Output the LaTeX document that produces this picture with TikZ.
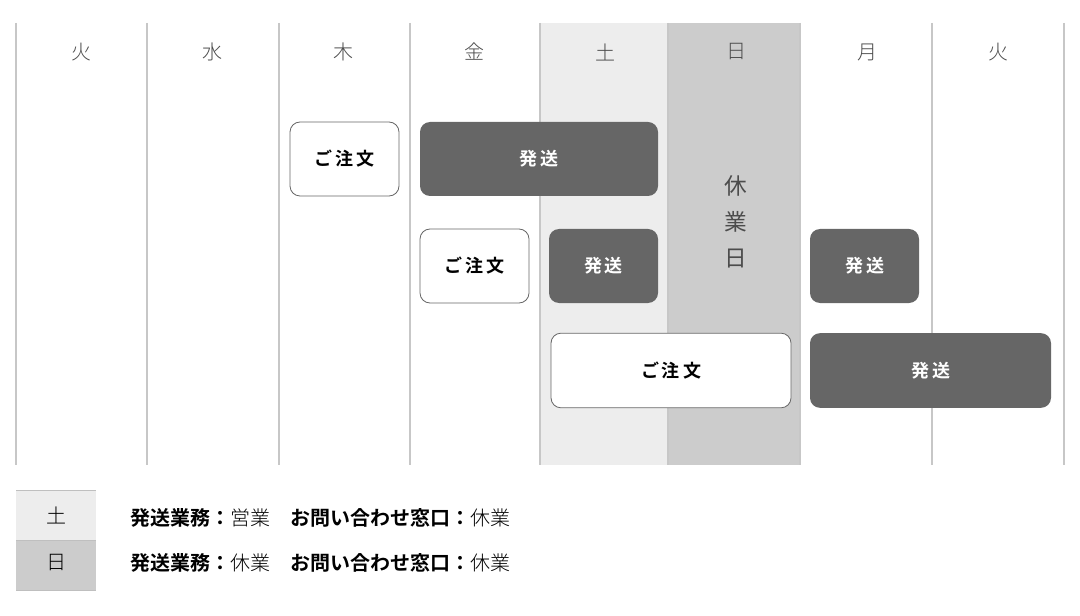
\documentclass[tikz,border=0pt]{standalone}
\usepackage{fontspec}
\newfontfamily\jp{Noto Sans CJK JP}
\newfontfamily\jpb{Noto Sans CJK JP Bold}
\newfontfamily\jpl{Noto Sans CJK JP Light}
\begin{document}
\begin{tikzpicture}[x=0.75pt,y=-0.75pt,
  day/.style={font=\jpl\fontsize{15}{15}\selectfont, text=black!70},
  order/.style={draw=black!60, fill=white, rounded corners=7.5pt, line width=0.6pt, font=\jpb\fontsize{13.5}{14}\selectfont, inner sep=0pt},
  ship/.style={fill=black!60, rounded corners=7.5pt, text=white, font=\jpb\fontsize{13.5}{14}\selectfont, inner sep=0pt},
  vline/.style={draw=black!22, line width=0.8pt},
  leg/.style={font=\fontsize{15}{15}\selectfont, anchor=west}]
\useasboundingbox (0,0) rectangle (1080,616);
\fill[black!7] (540,23) rectangle (668,465);
\fill[black!20] (668,23) rectangle (800,465);
\foreach \x in {16,147,279,410,540,668,800,932,1064} \draw[vline] (\x,23) -- (\x,465);
\foreach \t [count=\i] in {火,水,木,金,土,日,月,火}
  \node[day] (d\i) at ({16+131*(\i-0.5)},52) {\t};
\node[order, minimum width=81.75pt, minimum height=55.5pt] (o1) at (344.5,159) {ご\,注\,文};
\node[ship, minimum width=178.5pt, minimum height=55.5pt] (s1) at (539,159) {発\,送};
\node[order, minimum width=81.75pt, minimum height=55.5pt] (o2) at (474.5,266) {ご\,注\,文};
\node[ship, minimum width=81.75pt, minimum height=55.5pt] (s2) at (603.5,266) {発\,送};
\node[ship, minimum width=81.75pt, minimum height=55.5pt] (s3) at (864.5,266) {発\,送};
\node[order, minimum width=180pt, minimum height=56pt] (o3) at (671,370.5) {ご\,注\,文};
\node[ship, minimum width=180.75pt, minimum height=56pt] (s4) at (930.5,370.5) {発\,送};
\node[font=\jp\fontsize{17}{17}\selectfont, text=black!70, align=center] (kyu) at (736,222) {休\\[10pt]業\\[10pt]日};
\fill[black!7] (16,490) rectangle (96,540);
\fill[black!20] (16,540) rectangle (96,590);
\draw[black!25] (16,490) -- (96,490) (16,540) -- (96,540) (16,590) -- (96,590);
\node[font=\jpl\fontsize{15}{15}\selectfont] (l1) at (56,515) {土};
\node[font=\jpl\fontsize{15}{15}\selectfont] (l2) at (56,563) {日};
\node[leg] (t1) at (126,518) {{\jpb 発送業務：}{\jpl 営業}\hspace{1em}{\jpb お問い合わせ窓口：}{\jpl 休業}};
\node[leg] (t2) at (126,563) {{\jpb 発送業務：}{\jpl 休業}\hspace{1em}{\jpb お問い合わせ窓口：}{\jpl 休業}};
\end{tikzpicture}
\end{document}
